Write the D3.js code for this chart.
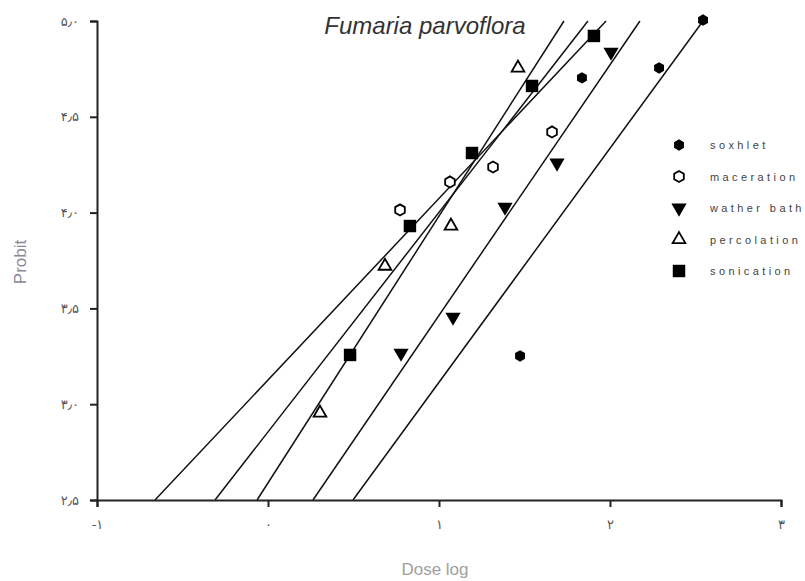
<!DOCTYPE html>
<html>
<head>
<meta charset="utf-8">
<script src="https://cdn.jsdelivr.net/npm/d3@7"></script>
<style>
  body { margin: 0; background: #fff; }
  svg { display: block; }
</style>
</head>
<body>
<div id="chart"></div>
<script>
const width = 805
const height = 581

// series, in legend order
const seriesNames = ['soxhlet', 'maceration', 'wather bath', 'percolation', 'sonication']

const soxhletDose = [2.544, 2.287, 1.836, 1.474]
const soxhletProbit = [5.005, 4.755, 4.703, 3.252]

const macerationDose = [0.772, 1.064, 1.316, 1.661]
const macerationProbit = [4.014, 4.16, 4.238, 4.421]

const watherBathDose = [0.778, 1.082, 1.386, 1.69, 2.006]
const watherBathProbit = [3.267, 3.455, 4.029, 4.259, 4.838]

const percolationDose = [0.304, 0.684, 1.07, 1.462]
const percolationProbit = [2.954, 3.721, 3.93, 4.755]

const sonicationDose = [0.48, 0.83, 1.193, 1.544, 1.906]
const sonicationProbit = [3.257, 3.93, 4.311, 4.661, 4.922]

// fitted lines: dose log where each line meets probit 2.5 and probit 5.0
const fitDoseAtLow = [0.497, -0.31, 0.263, -0.064, -0.661]
const fitDoseAtHigh = [2.544, 1.871, 2.175, 1.731, 1.977]
const fitProbitRange = [2.5, 5.0]

const xTicks = [-1, 0, 1, 2, 3]
const xTickLabels = ['-۱', '۰', '۱', '۲', '۳']
const yTicks = [2.5, 3, 3.5, 4, 4.5, 5]
const yTickLabels = ['۲٫۵', '۳٫۰', '۳٫۵', '۴٫۰', '۴٫۵', '۵٫۰']

const doses = [soxhletDose, macerationDose, watherBathDose, percolationDose, sonicationDose]
const probits = [soxhletProbit, macerationProbit, watherBathProbit, percolationProbit, sonicationProbit]

const x = d3.scaleLinear().domain([-1, 3]).range([97, 781])
const y = d3.scaleLinear().domain([2.5, 5]).range([500, 21])

const svg = d3
    .select('#chart')
    .append('svg')
    .attr('width', width)
    .attr('height', height)

// hexagon marker, pointy top
const hexagon = {
    draw(ctx, size) {
        const r = Math.sqrt(size / 2.6)
        for (let i = 0; i < 6; i++) {
            const a = Math.PI / 2 + i * Math.PI / 3
            const px = r * Math.cos(a)
            const py = r * Math.sin(a)
            if (i === 0) ctx.moveTo(px, py)
            else ctx.lineTo(px, py)
        }
        ctx.closePath()
    }
}

const markers = [
    { type: hexagon, size: 85, fill: '#000', stroke: 'none', rotate: 0 },
    { type: hexagon, size: 80, fill: '#fff', stroke: '#000', rotate: 0 },
    { type: d3.symbolTriangle, size: 100, fill: '#000', stroke: 'none', rotate: 180 },
    { type: d3.symbolTriangle, size: 70, fill: '#fff', stroke: '#000', rotate: 0 },
    { type: d3.symbolSquare, size: 155, fill: '#000', stroke: 'none', rotate: 0 }
]

// fitted lines
const lineData = seriesNames.map((name, i) => [
    [fitDoseAtLow[i], fitProbitRange[0]],
    [fitDoseAtHigh[i], fitProbitRange[1]]
])
svg.append('g')
    .selectAll('path')
    .data(lineData)
    .enter()
    .append('path')
    .attr('d', d3.line().x(d => x(d[0])).y(d => y(d[1])))
    .attr('fill', 'none')
    .attr('stroke', '#111')
    .attr('stroke-width', 1.5)

// points
seriesNames.forEach((name, i) => {
    const m = markers[i]
    const pts = doses[i].map((d, j) => [d, probits[i][j]])
    svg.append('g')
        .attr('class', 'series')
        .selectAll('path')
        .data(pts)
        .enter()
        .append('path')
        .attr('d', d3.symbol().type(m.type).size(m.size))
        .attr('transform', d => `translate(${x(d[0])},${y(d[1])}) rotate(${m.rotate})`)
        .attr('fill', m.fill)
        .attr('stroke', m.stroke)
        .attr('stroke-width', 1.8)
})

// axes
const xAxis = svg.append('g')
    .attr('transform', `translate(0,${y(2.5)})`)
    .call(d3.axisBottom(x).tickValues(xTicks).tickSize(7).tickPadding(13)
        .tickFormat((d, i) => xTickLabels[i]))
const yAxis = svg.append('g')
    .attr('transform', `translate(${x(-1)},0)`)
    .call(d3.axisLeft(y).tickValues(yTicks).tickSize(7).tickPadding(11)
        .tickFormat((d, i) => yTickLabels[i]))

;[xAxis, yAxis].forEach(ax => {
    ax.select('.domain').attr('stroke', '#222').attr('stroke-width', 2)
    ax.selectAll('.tick line').attr('stroke', '#222').attr('stroke-width', 2)
    ax.selectAll('.tick text')
        .attr('fill', '#555')
        .style('font-family', '"DejaVu Sans", sans-serif')
        .style('font-size', '13px')
})

// title and axis labels
svg.append('text')
    .attr('x', 425)
    .attr('y', 34)
    .attr('text-anchor', 'middle')
    .style('font-family', '"Liberation Sans", Arial, sans-serif')
    .style('font-style', 'italic')
    .style('font-size', '24px')
    .attr('fill', '#333')
    .text('Fumaria parvoflora')

svg.append('text')
    .attr('transform', 'translate(26,262) rotate(-90)')
    .attr('text-anchor', 'middle')
    .style('font-family', '"Liberation Sans", Arial, sans-serif')
    .style('font-size', '17px')
    .attr('fill', '#8a8898')
    .text('Probit')

svg.append('text')
    .attr('x', 435)
    .attr('y', 575)
    .attr('text-anchor', 'middle')
    .style('font-family', '"Liberation Sans", Arial, sans-serif')
    .style('font-size', '17px')
    .attr('fill', '#a0a0a0')
    .text('Dose log')

// legend
const legendRowY = d3.scaleLinear().domain([0, 4]).range([145, 271])
const legend = svg.append('g')
    .selectAll('g')
    .data(seriesNames)
    .enter()
    .append('g')
    .attr('transform', (d, i) => `translate(679,${legendRowY(i)})`)

legend.append('path')
    .attr('d', (d, i) => d3.symbol().type(markers[i].type).size(markers[i].size)())
    .attr('transform', (d, i) => `rotate(${markers[i].rotate})`)
    .attr('fill', (d, i) => markers[i].fill)
    .attr('stroke', (d, i) => markers[i].stroke)
    .attr('stroke-width', 1.8)

legend.append('text')
    .attr('x', 31)
    .attr('y', 4)
    .style('font-family', '"Liberation Sans", Arial, sans-serif')
    .style('font-size', '11px')
    .style('letter-spacing', '3.4px')
    .attr('fill', '#444')
    .text(d => d)
</script>
</body>
</html>
